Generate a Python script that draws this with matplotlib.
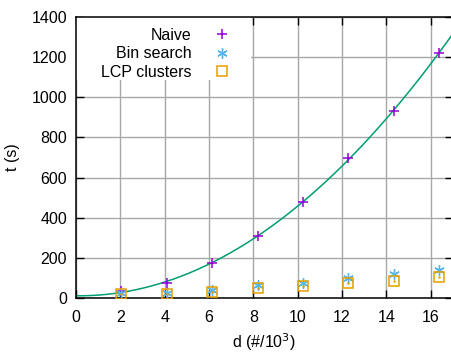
import numpy as np
import matplotlib
matplotlib.use("Agg")
import matplotlib.pyplot as plt
from matplotlib.patches import Rectangle

plt.rcParams['font.family'] = ['Liberation Sans', 'DejaVu Sans']

# number of strings (thousands) and timings in seconds
d = [2.048, 4.096, 6.144, 8.192, 10.24, 12.288, 14.336, 16.384]
naive = [33, 76, 173, 309, 480, 697, 932, 1222]
bin_search = [25, 23, 40, 63, 76, 98, 118, 139]
lcp_clusters = [22, 22, 30, 48, 60, 73, 86, 103]

xticks = [0, 2, 4, 6, 8, 10, 12, 14, 16]
yticks = [0, 200, 400, 600, 800, 1000, 1200, 1400]

# quadratic fit of the naive timings
coef = np.polyfit(d, naive, 2)
xf = np.linspace(0, 17, 300)
yf = np.polyval(coef, xf)

fig = plt.figure(figsize=(4.52, 3.53), dpi=100)
ax = fig.add_axes([0.168, 0.156, 0.834, 0.796])

ax.plot(xf, yf, color="#009E73", lw=1.1, zorder=2)
ax.plot(d, naive, ls="none", marker="+", ms=7.5, mew=1.1, color="#9400D3",
        label="Naive", zorder=3)
ax.plot(d, bin_search, ls="none", marker=(6, 2, 0), ms=7.5, mew=1.0,
        color="#56B4E9", label="Bin search", zorder=3)
ax.plot(d, lcp_clusters, ls="none", marker="s", ms=6.5, mew=1.1,
        mfc="none", color="#E69F00", label="LCP clusters", zorder=3)
ax.plot(d, lcp_clusters, ls="none", marker=".", ms=1.5, color="#E69F00",
        zorder=3)

ax.set_xlim(0, 17)
ax.set_ylim(0, 1400)
ax.set_xticks(xticks)
ax.set_yticks(yticks)
ax.grid(True, color="#a8a8a8", lw=1.0)
ax.set_axisbelow(True)
ax.tick_params(direction="in", length=6, width=1, top=True, right=True,
               labelsize=11.5)
ax.tick_params(axis="x", pad=8.5)
ax.tick_params(axis="y", pad=6.5)
for s in ax.spines.values():
    s.set_linewidth(1.1)

ax.set_xlabel("d (#/10$^3$)", fontsize=11.5, labelpad=4.5)
ax.set_ylabel("t (s)", fontsize=11.5, labelpad=8)

# blank key area covering the grid
ax.add_patch(Rectangle((0, 0.776), 0.464, 0.224, transform=ax.transAxes,
                       facecolor="white", edgecolor="none", zorder=1.5))

leg = ax.legend(loc="upper right", markerfirst=False, frameon=False,
                fontsize=11.5, handlelength=0.8, handletextpad=1.5,
                labelspacing=0.22, borderpad=0.0, borderaxespad=0.0,
                bbox_to_anchor=(0.405, 0.962))

fig.savefig("out.png", dpi=100)
